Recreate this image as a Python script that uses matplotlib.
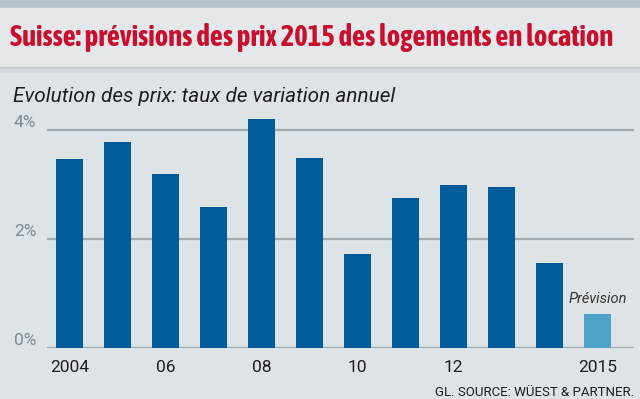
import matplotlib
matplotlib.use('Agg')
import matplotlib.pyplot as plt
import matplotlib.patheffects as pe
from matplotlib import font_manager
from matplotlib.font_manager import FontProperties
from matplotlib.patches import Rectangle
from matplotlib.transforms import blended_transform_factory

# Data
years = [2004, 2005, 2006, 2007, 2008, 2009, 2010, 2011, 2012, 2013, 2014, 2015]
variation = [3.46, 3.77, 3.19, 2.58, 4.19, 3.48, 1.72, 2.75, 2.98, 2.94, 1.55, 0.62]
is_forecast = [False] * 11 + [True]
tick_years = [2004, 2006, 2008, 2010, 2012, 2015]
tick_labels = ['2004', '06', '08', '10', '12', '2015']
y_ticks = [0, 2, 4]
y_labels = ['0%', '2%', '4%']

W, H = 640, 399
BG = '#dee3e7'
BAND = '#e4e8eb'
TOP = '#b7c3cb'
BAR = '#005b9b'
BAR_FC = '#4fa3c9'
GRID = '#a3abb2'
RED = '#c8102e'


def weight_num(w):
    if isinstance(w, str):
        return font_manager.weight_dict.get(w, 400)
    return w


# pick a narrow face for the title; embolden with a stroke if no bold file
ttf = font_manager.fontManager.ttflist
narrow = [f for f in ttf if 'Narrow' in f.name or 'Condensed' in f.name]
bold_narrow = sorted({f.name for f in narrow if weight_num(f.weight) >= 600})
title_effects = None
if bold_narrow:
    title_font = FontProperties(family=bold_narrow[0], weight='bold')
elif narrow:
    title_font = FontProperties(family=sorted({f.name for f in narrow})[0])
    title_effects = [pe.withStroke(linewidth=1.4, foreground=RED)]
else:
    title_font = FontProperties(family='Roboto', weight='bold')

fig = plt.figure(figsize=(W / 100, H / 100), dpi=100)
fig.patch.set_facecolor(BG)


def band(y0, y1, color):
    # background strip given in pixel rows
    fig.patches.append(Rectangle((0, 1 - y1 / H), 1, (y1 - y0) / H,
                                 transform=fig.transFigure, color=color, zorder=0))


def fit_width(txt, target):
    fig.canvas.draw()
    w = txt.get_window_extent().width
    txt.set_fontsize(txt.get_fontsize() * target / w)


band(0, 8, TOP)
band(8, 67, BAND)
band(67, 69, '#c3cad0')
band(69, 72, '#d2d8dd')

title = fig.text(10 / W, 1 - 37 / H, 'Suisse: prévisions des prix 2015 des logements en location',
                 color=RED, fontproperties=title_font, ha='left', va='center')
title.set_fontsize(18)
fit_width(title, 605)
if title_effects:
    title.set_path_effects(title_effects)

sub = fig.text(13 / W, 1 - 97 / H, 'Evolution des prix: taux de variation annuel',
               color='#1e1e1e', fontsize=15, style='italic', family='Roboto',
               ha='left', va='center')
fit_width(sub, 382)

ax = fig.add_axes([47 / W, 1 - 347.7 / H, (634 - 47) / W, (347.7 - 110) / H])
ax.set_facecolor('none')

x = list(range(len(years)))
colors = [BAR_FC if f else BAR for f in is_forecast]
ax.bar(x, variation, width=0.56, color=colors, zorder=3)

for v in y_ticks:
    ax.axhline(v, color=GRID, linewidth=1.6, zorder=1)

ax.set_xlim(-0.465, 11.76)
ax.set_ylim(0, (347.7 - 110) / 54.5)

for s in ax.spines.values():
    s.set_visible(False)
ax.set_yticks([])
ax.set_xticks([years.index(y) for y in tick_years])
ax.set_xticklabels(tick_labels, fontsize=12.5, color='#1e1e1e', family='Roboto')
ax.tick_params(axis='x', length=0, pad=9)

ylab_tr = blended_transform_factory(fig.transFigure, ax.transData)
for v, lab in zip(y_ticks, y_labels):
    ax.text(14 / W, v, lab, transform=ylab_tr, fontsize=12.5, color='#7d8890',
            family='Roboto', ha='left', va='bottom')

# forecast label
i_fc = is_forecast.index(True)
ax.annotate('Prévision', xy=(i_fc, variation[i_fc]), xytext=(0, 6),
            textcoords='offset points', ha='center', va='bottom',
            fontsize=10.5, style='italic', color='#333333', family='Roboto')

fig.text(634 / W, 1 - 392 / H, 'GL. SOURCE: WÜEST & PARTNER.', fontsize=9.5,
         color='#1e1e1e', family='Roboto', ha='right', va='center')

fig.savefig('out.png', dpi=100, facecolor=BG)
